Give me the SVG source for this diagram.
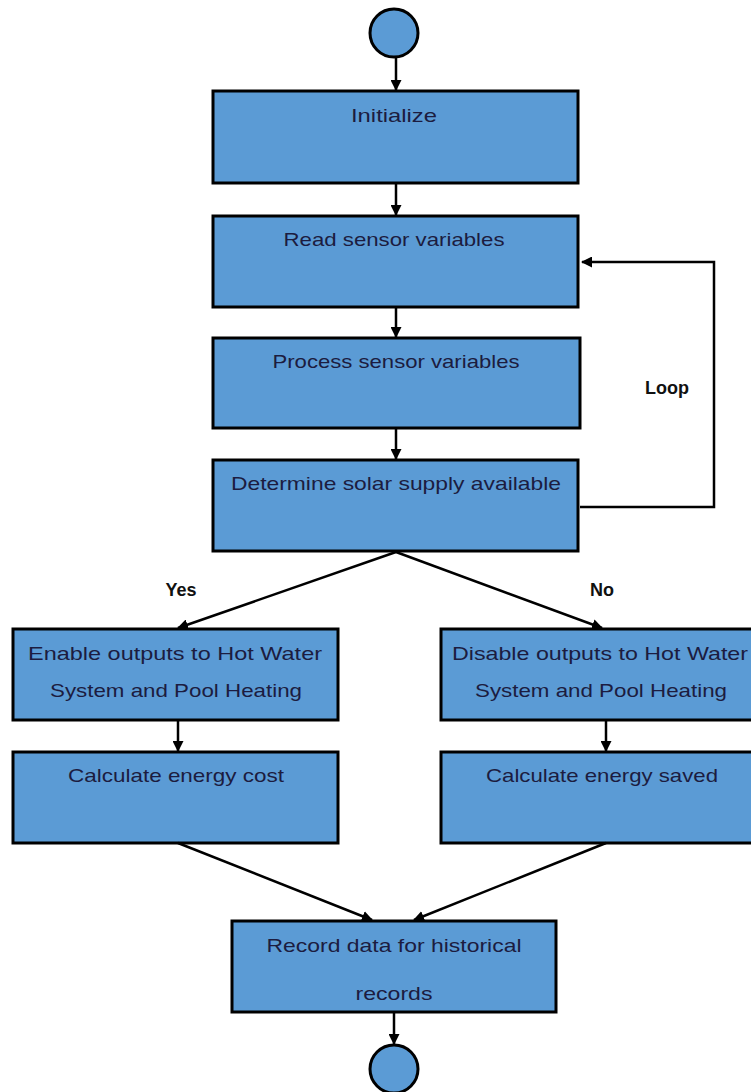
<svg xmlns="http://www.w3.org/2000/svg" width="751" height="1092" viewBox="0 0 751 1092">
<defs>
<marker id="ah" markerWidth="11" markerHeight="11" refX="10" refY="5.5" orient="auto" markerUnits="userSpaceOnUse">
<path d="M0,0 L11,5.5 L0,11 z" fill="#000"/>
</marker>
<style>
.box{fill:#5b9bd5;stroke:#000;stroke-width:3}
.t{font-family:"Liberation Sans",Arial,sans-serif;font-size:19px;fill:#1c1c40;text-anchor:middle}
.lb{font-family:"Liberation Sans",Arial,sans-serif;font-size:18px;font-weight:bold;fill:#111;text-anchor:middle}
.c{fill:none;stroke:#000;stroke-width:2.5}
</style>
</defs>
<rect width="751" height="1092" fill="#fff"/>
<g id="start"><circle cx="394" cy="33" r="24" class="box"/></g>
<g id="init"><rect x="213" y="91" width="365" height="92" class="box"/><text x="394" y="122" class="t" textLength="86" lengthAdjust="spacingAndGlyphs">Initialize</text></g>
<g id="read"><rect x="213" y="216" width="365" height="91" class="box"/><text x="394" y="246" class="t" textLength="221" lengthAdjust="spacingAndGlyphs">Read sensor variables</text></g>
<g id="process"><rect x="213" y="338" width="367" height="90" class="box"/><text x="396" y="368" class="t" textLength="247" lengthAdjust="spacingAndGlyphs">Process sensor variables</text></g>
<g id="determine"><rect x="213" y="460" width="365" height="91" class="box"/><text x="396" y="490" class="t" textLength="330" lengthAdjust="spacingAndGlyphs">Determine solar supply available</text></g>
<g id="enable"><rect x="13" y="629" width="325" height="91" class="box"/><text x="175" y="660" class="t" textLength="294" lengthAdjust="spacingAndGlyphs">Enable outputs to Hot Water</text><text x="176" y="697" class="t" textLength="252" lengthAdjust="spacingAndGlyphs">System and Pool Heating</text></g>
<g id="disable"><rect x="441" y="629" width="312" height="91" class="box"/><text x="600" y="660" class="t" textLength="296" lengthAdjust="spacingAndGlyphs">Disable outputs to Hot Water</text><text x="601" y="697" class="t" textLength="252" lengthAdjust="spacingAndGlyphs">System and Pool Heating</text></g>
<g id="cost"><rect x="13" y="752" width="325" height="91" class="box"/><text x="176" y="782" class="t" textLength="216" lengthAdjust="spacingAndGlyphs">Calculate energy cost</text></g>
<g id="saved"><rect x="441" y="752" width="312" height="91" class="box"/><text x="602" y="782" class="t" textLength="232" lengthAdjust="spacingAndGlyphs">Calculate energy saved</text></g>
<g id="record"><rect x="232" y="921" width="324" height="91" class="box"/><text x="394" y="952" class="t" textLength="255" lengthAdjust="spacingAndGlyphs">Record data for historical</text><text x="394" y="1000" class="t" textLength="77" lengthAdjust="spacingAndGlyphs">records</text></g>
<g id="end"><circle cx="394" cy="1069" r="24" class="box"/></g>
<g id="connectors">
<line x1="396" y1="57" x2="396" y2="90" class="c" marker-end="url(#ah)"/>
<line x1="396" y1="183" x2="396" y2="215" class="c" marker-end="url(#ah)"/>
<line x1="396" y1="307" x2="396" y2="337" class="c" marker-end="url(#ah)"/>
<line x1="396" y1="428" x2="396" y2="459" class="c" marker-end="url(#ah)"/>
<line x1="396" y1="552" x2="178" y2="628" class="c" marker-end="url(#ah)"/>
<line x1="396" y1="552" x2="602" y2="628" class="c" marker-end="url(#ah)"/>
<line x1="178" y1="720" x2="178" y2="751" class="c" marker-end="url(#ah)"/>
<line x1="606" y1="720" x2="606" y2="751" class="c" marker-end="url(#ah)"/>
<line x1="178" y1="843" x2="372" y2="920" class="c" marker-end="url(#ah)"/>
<line x1="606" y1="843" x2="414" y2="920" class="c" marker-end="url(#ah)"/>
<line x1="394" y1="1012" x2="394" y2="1044" class="c" marker-end="url(#ah)"/>
<polyline points="580,507 714,507 714,262 582,262" class="c" marker-end="url(#ah)"/>
<text x="181" y="596" class="lb">Yes</text>
<text x="602" y="596" class="lb">No</text>
<text x="667" y="394" class="lb">Loop</text>
</g>
</svg>
